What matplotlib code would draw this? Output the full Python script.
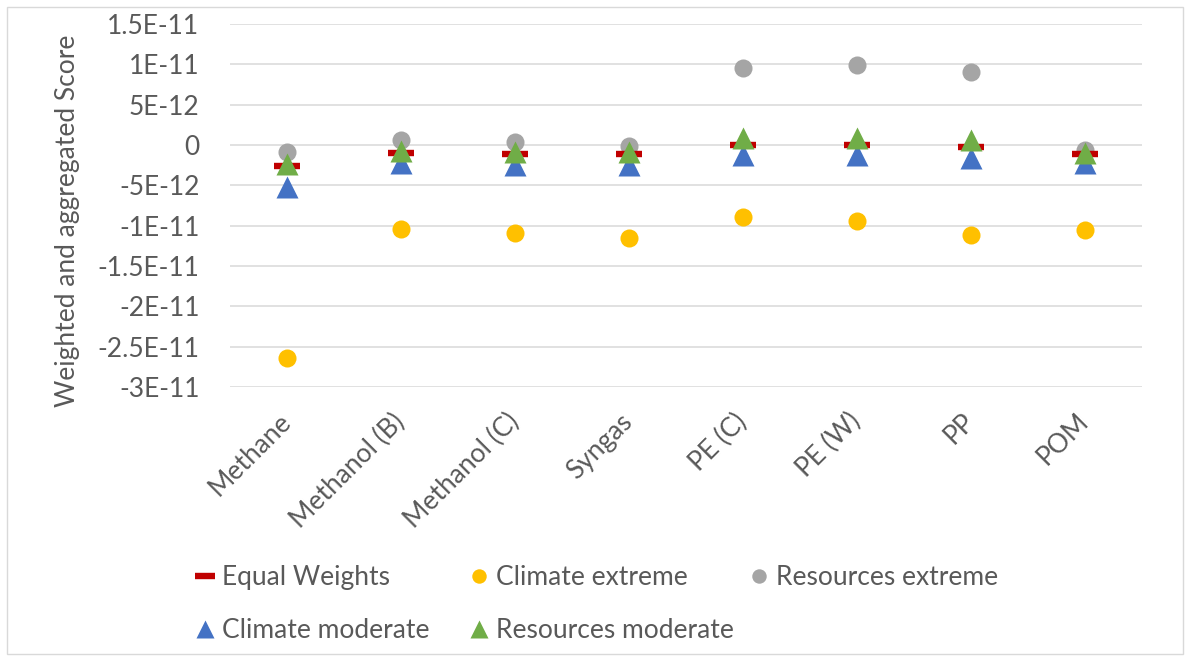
import matplotlib
matplotlib.use("Agg")
import matplotlib.pyplot as plt
from matplotlib.patches import Rectangle
from matplotlib.ticker import FixedLocator

categories = ["Methane", "Methanol (B)", "Methanol (C)", "Syngas",
              "PE (C)", "PE (W)", "PP", "POM"]

equal_weights = [-2.6e-12, -1.0e-12, -1.1e-12, -1.1e-12, 0.0, 0.0, -2.0e-13, -1.1e-12]
climate_extreme = [-2.64e-11, -1.04e-11, -1.09e-11, -1.15e-11, -8.9e-12, -9.4e-12, -1.12e-11, -1.05e-11]
resources_extreme = [-8.7e-13, 6.0e-13, 4.0e-13, -1.0e-13, 9.6e-12, 9.9e-12, 9.0e-12, -6.0e-13]
climate_moderate = [-5.2e-12, -2.2e-12, -2.5e-12, -2.5e-12, -1.2e-12, -1.2e-12, -1.6e-12, -2.2e-12]
resources_moderate = [-2.4e-12, -8.0e-13, -9.0e-13, -9.0e-13, 9.0e-13, 9.0e-13, 6.0e-13, -1.0e-12]

yticks = [1.5e-11, 1e-11, 5e-12, 0, -5e-12, -1e-11, -1.5e-11, -2e-11, -2.5e-11, -3e-11]
ytick_labels = ["1.5E-11", "1E-11", "5E-12", "0", "-5E-12", "-1E-11",
                "-1.5E-11", "-2E-11", "-2.5E-11", "-3E-11"]

TEXT = "#595959"
FS = 19
plt.rcParams["font.family"] = ["Lato", "DejaVu Sans"]

fig = plt.figure(figsize=(11.9, 6.61), dpi=100)
ax = fig.add_axes([230 / 1190, 1 - 387 / 661, 912 / 1190, 363 / 661])

x = list(range(len(categories)))

ax.plot(x, equal_weights, ls="none", marker="_", ms=18.7, mew=4.6,
        color="#C00000", label="Equal Weights", zorder=3)
ax.plot(x, climate_extreme, ls="none", marker="o", ms=13, mec="none",
        color="#FFC000", label="Climate extreme", zorder=4)
ax.plot(x, resources_extreme, ls="none", marker="o", ms=13, mec="none",
        color="#A5A5A5", label="Resources extreme", zorder=2)
ax.plot(x, climate_moderate, ls="none", marker="^", ms=16.5, mec="none",
        color="#4472C4", label="Climate moderate", zorder=5)
ax.plot(x, resources_moderate, ls="none", marker="^", ms=16.5, mec="none",
        color="#70AD47", label="Resources moderate", zorder=6)

ax.set_xlim(-0.5, len(categories) - 0.5)
ax.set_ylim(-3e-11, 1.5e-11)
ax.yaxis.set_major_locator(FixedLocator(yticks))
ax.set_yticklabels(ytick_labels)
ax.set_xticks(x)
ax.set_xticklabels(categories, rotation=45, ha="right", va="center",
                   rotation_mode="anchor")

ax.grid(axis="y", color="#D9D9D9", lw=1.1, zorder=0)
ax.set_axisbelow(True)
for s in ax.spines.values():
    s.set_visible(False)
ax.tick_params(axis="both", length=0, labelsize=FS, colors=TEXT)
ax.tick_params(axis="x", pad=22)
ax.tick_params(axis="y", pad=22)

ax.set_ylabel("Weighted and aggregated Score", fontsize=FS, color=TEXT)
ax.yaxis.set_label_coords(-0.164, 0.457)

# legend: one small legend per column so columns sit where Excel puts them
h, l = ax.get_legend_handles_labels()
columns = [([0, 3], 184), ([1, 4], 458), ([2], 738)]
for idx, xpix in columns:
    fig.legend([h[i] for i in idx], [l[i] for i in idx],
               loc="upper left", bbox_to_anchor=(xpix / 1190, 1 - 552 / 661),
               frameon=False, fontsize=FS, labelcolor=TEXT, markerscale=0.8,
               handlelength=0.6, handletextpad=0.35, labelspacing=1.05,
               borderpad=0)

# chart border
fig.add_artist(Rectangle((7 / 1190, 7 / 661), 1 - 14 / 1190, 1 - 14 / 661,
                         transform=fig.transFigure, fill=False,
                         edgecolor="#D9D9D9", lw=1))

fig.savefig("out.png", dpi=100)
